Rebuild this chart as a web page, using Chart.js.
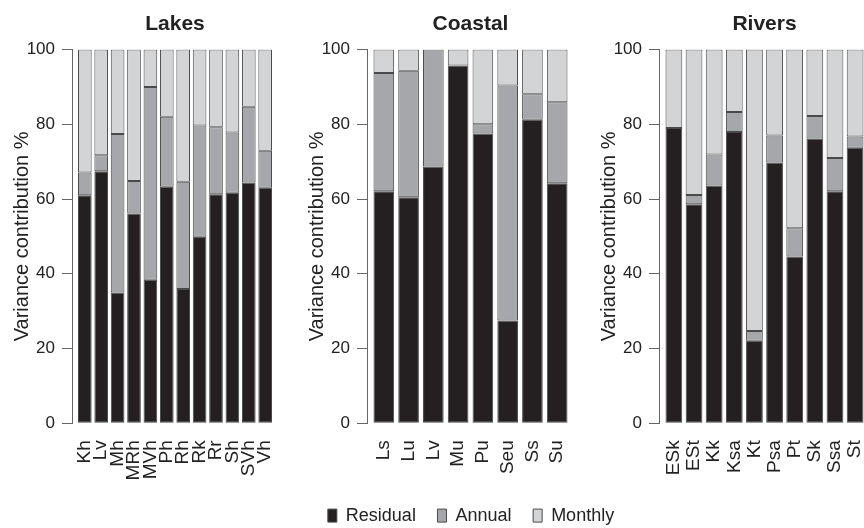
<!DOCTYPE html>
<html>
<head>
<meta charset="utf-8">
<script src="https://cdn.jsdelivr.net/npm/chart.js@4.4.0/dist/chart.umd.min.js"></script>
<style>
  html, body { margin: 0; padding: 0; background: #fff; }
  body { width: 864px; height: 528px; overflow: hidden; position: relative; }
  canvas { position: absolute; top: 0; }
</style>
</head>
<body>
<canvas id="lakes"></canvas>
<canvas id="coastal"></canvas>
<canvas id="rivers"></canvas>
<canvas id="legend"></canvas>
<script>
// categorias de cada painel
const lakeLabels = ['Kh', 'Lv', 'Mh', 'MRh', 'MVh', 'Ph', 'Rh', 'Rk', 'Rr', 'Sh', 'SVh', 'Vh'];
const coastLabels = ['Ls', 'Lu', 'Lv', 'Mu', 'Pu', 'Seu', 'Ss', 'Su'];
const riverLabels = ['ESk', 'ESt', 'Kk', 'Ksa', 'Kt', 'Psa', 'Pt', 'Sk', 'Ssa', 'St'];

// Lakes (% da variancia)
const lakeResidual = [61.0, 67.4, 35.0, 56.1, 38.4, 63.3, 35.9, 49.9, 61.3, 61.7, 64.4, 63.0];
const lakeAnnual   = [6.1, 4.3, 42.4, 8.7, 51.6, 18.7, 28.7, 29.8, 17.9, 16.1, 20.3, 9.9];
const lakeMonthly  = [32.9, 28.3, 22.6, 35.2, 10.0, 18.0, 35.4, 20.3, 20.8, 22.2, 15.3, 27.1];

// Coastal
const coastResidual = [62.1, 60.5, 68.7, 95.7, 77.5, 27.5, 81.2, 64.2];
const coastAnnual   = [31.6, 33.8, 31.3, 0, 2.5, 62.9, 6.8, 21.7];
const coastMonthly  = [6.3, 5.7, 0, 4.3, 20.0, 9.6, 12.0, 14.1];

// Rivers
const riverResidual = [79.0, 58.6, 63.6, 77.9, 22.1, 69.8, 44.6, 76.2, 62.1, 73.7];
const riverAnnual   = [0, 2.5, 8.3, 5.4, 2.6, 7.2, 7.6, 6.0, 8.9, 3.0];
const riverMonthly  = [21.0, 38.9, 28.1, 16.7, 75.3, 23.0, 47.8, 17.8, 29.0, 23.3];

const yTicks = [0, 20, 40, 60, 80, 100];

const FONT = 'Liberation Sans, Arial, Helvetica, sans-serif';
const TXT = '#222';
const AXIS = '#666';
const EDGE = '#4a4a4a';
const colors = { residual: '#242021', annual: '#a6a7aa', monthly: '#d3d4d6' };

// layout
const AXIS_W = 72;
const CANVAS_H = 500;
const PLOT_BOTTOM = 423.3;
const BAR_FRAC = 1 / 1.2;

function series(label, values, color) {
  return {
    label: label,
    data: values.map((v, i) => ({ x: i, y: v })),
    backgroundColor: color,
    borderColor: EDGE,
    borderWidth: 1,
    borderSkipped: false,
    categoryPercentage: 1,
    barPercentage: BAR_FRAC
  };
}

function makePanel(id, title, labels, residual, annual, monthly, axisX, plotW, gap) {
  const canvas = document.getElementById(id);
  canvas.width = AXIS_W + plotW + 4;
  canvas.height = CANVAS_H;
  canvas.style.left = (axisX - AXIS_W) + 'px';
  const n = labels.length;
  const half = BAR_FRAC / 2;

  return new Chart(canvas, {
    type: 'bar',
    data: {
      datasets: [
        series('Residual', residual, colors.residual),
        series('Annual', annual, colors.annual),
        series('Monthly', monthly, colors.monthly)
      ]
    },
    options: {
      responsive: false,
      animation: false,
      layout: { padding: { left: 0, right: 4, top: 0, bottom: 0 } },
      plugins: {
        legend: { display: false },
        tooltip: { enabled: false },
        title: {
          display: true,
          fullSize: false,
          text: title,
          color: TXT,
          font: { family: FONT, size: 21, weight: 'bold' },
          padding: { top: 12, bottom: 12.3 }
        }
      },
      scales: {
        x: {
          type: 'linear',
          stacked: true,
          offset: false,
          min: -half - gap,
          max: n - 1 + half + gap,
          grid: { display: false, drawTicks: false, offset: false },
          border: { display: false },
          afterBuildTicks: s => { s.ticks = labels.map((_, i) => ({ value: i })); },
          afterFit: s => {
            s.height = CANVAS_H - PLOT_BOTTOM;
            s.paddingLeft = 0;
            s.paddingRight = 0;
          },
          ticks: {
            autoSkip: false,
            minRotation: 90,
            maxRotation: 90,
            padding: 17,
            color: TXT,
            font: { family: FONT, size: 19 },
            callback: v => labels[v]
          }
        },
        y: {
          stacked: true,
          min: 0,
          max: 100,
          afterBuildTicks: s => { s.ticks = yTicks.map(v => ({ value: v })); },
          afterFit: s => { s.width = AXIS_W; },
          grid: { drawOnChartArea: false, tickLength: 10, color: AXIS },
          border: { display: true, color: AXIS },
          ticks: { padding: 7, color: TXT, font: { family: FONT, size: 17 } },
          title: {
            display: true,
            text: 'Variance contribution %',
            color: TXT,
            font: { family: FONT, size: 20 },
            padding: { top: 10, bottom: 0 }
          }
        }
      }
    }
  });
}

makePanel('lakes', 'Lakes', lakeLabels, lakeResidual, lakeAnnual, lakeMonthly, 71.7, 206.5, 0.365);
makePanel('coastal', 'Coastal', coastLabels, coastResidual, coastAnnual, coastMonthly, 366.5, 207, 0.262);
makePanel('rivers', 'Rivers', riverLabels, riverResidual, riverAnnual, riverMonthly, 658.5, 211, 0.323);

// legenda comum, centrada na figura original
const lg = document.getElementById('legend');
lg.width = 942;
lg.height = 80;
lg.style.left = '0px';
lg.style.top = '485px';
new Chart(lg, {
  type: 'bar',
  data: {
    datasets: [
      { label: 'Residual', data: [], backgroundColor: colors.residual, borderColor: EDGE, borderWidth: 1 },
      { label: 'Annual', data: [], backgroundColor: colors.annual, borderColor: EDGE, borderWidth: 1 },
      { label: 'Monthly', data: [], backgroundColor: colors.monthly, borderColor: EDGE, borderWidth: 1 }
    ]
  },
  options: {
    responsive: false,
    animation: false,
    scales: { x: { display: false }, y: { display: false } },
    plugins: {
      tooltip: { enabled: false },
      legend: {
        position: 'top',
        labels: {
          boxWidth: 9,
          boxHeight: 13,
          padding: 21.6,
          color: TXT,
          font: { family: FONT, size: 18 }
        }
      }
    }
  }
});
</script>
</body>
</html>
